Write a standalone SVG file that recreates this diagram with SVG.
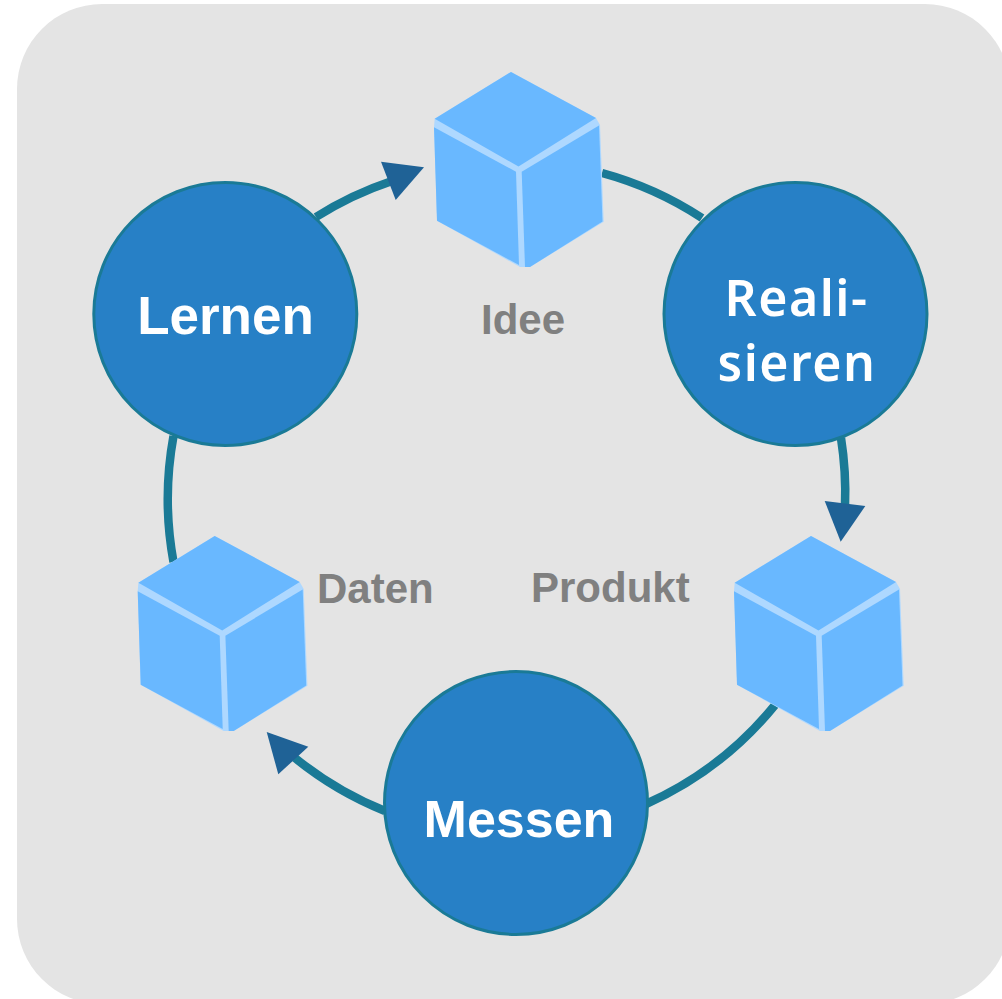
<svg xmlns="http://www.w3.org/2000/svg" width="1002" height="999" viewBox="0 0 1002 999">
<style>
.conn{fill:none;stroke:#1a7a96;stroke-width:8.5}
.head{fill:#1f6296}
.circle{fill:#2780c6;stroke:#1a7a96;stroke-width:3}
.edge{fill:#aed8ff}
.face{fill:#69b8ff}
.in{font-family:"Noto Sans",sans-serif;font-weight:600;font-size:50px;letter-spacing:1.5px;fill:#fff;text-anchor:middle}
.ar{font-family:"Liberation Sans",Arial,sans-serif;font-weight:bold;fill:#fff;text-anchor:middle}
.lab{font-family:"Liberation Sans",Arial,sans-serif;font-weight:bold;font-size:42px;fill:#808080}
</style>
<defs>
<g id="cube">
<polygon class="edge" points="0,0 85,46 89,53 92.7,149.7 19,195 9,195 -74,148.7 -77,55 -76.3,46.7"/>
<polygon class="face" points="0,0 85,46 7.5,94.5 -76.3,46.7"/>
<polygon class="face" points="-77,55.3 5,99.7 8,193 -74,148.7"/>
<polygon class="face" points="10.7,99.7 88,53.5 91.5,149.5 19,195 14,195"/>
</g>
</defs>
<rect x="17" y="4" width="993" height="1000" rx="85" ry="85" fill="#e4e4e4"/>
<g id="connectors">
<path class="conn" d="M316 217A350 350 0 0 1 392 181"/>
<path class="conn" d="M602 173A350 350 0 0 1 702 218"/>
<path class="conn" d="M841 438A350 350 0 0 1 845 506"/>
<path class="conn" d="M775 705A350 350 0 0 1 646 804"/>
<path class="conn" d="M385 811A350 350 0 0 1 295 758"/>
<path class="conn" d="M173.500 562A350 350 0 0 1 173.500 436"/>
<polygon class="head" points="381,161.7 424,167.3 395.7,200"/>
<polygon class="head" points="824.7,501 865.3,506 840.7,541.7"/>
<polygon class="head" points="266.7,732 308.3,746.7 278.3,774.3"/>
</g>
<g id="node-idee"><use href="#cube" x="511" y="72"/><text class="lab" x="481" y="334">Idee</text></g>
<g id="node-produkt"><use href="#cube" x="811" y="536"/><text class="lab" x="531" y="602">Produkt</text></g>
<g id="node-daten"><use href="#cube" x="214.7" y="536"/><text class="lab" x="317" y="603">Daten</text></g>
<g id="node-lernen"><circle class="circle" cx="225.300" cy="314" r="131.500"/><text class="ar" x="225.500" y="334" font-size="53">Lernen</text></g>
<g id="node-realisieren"><circle class="circle" cx="795.500" cy="314" r="131.500"/><text class="in" x="796.500" y="316">Reali-</text><text class="in" x="797" y="381">sieren</text></g>
<g id="node-messen"><circle class="circle" cx="516" cy="803" r="131.500"/><text class="ar" x="519" y="837" font-size="52">Messen</text></g>
</svg>
